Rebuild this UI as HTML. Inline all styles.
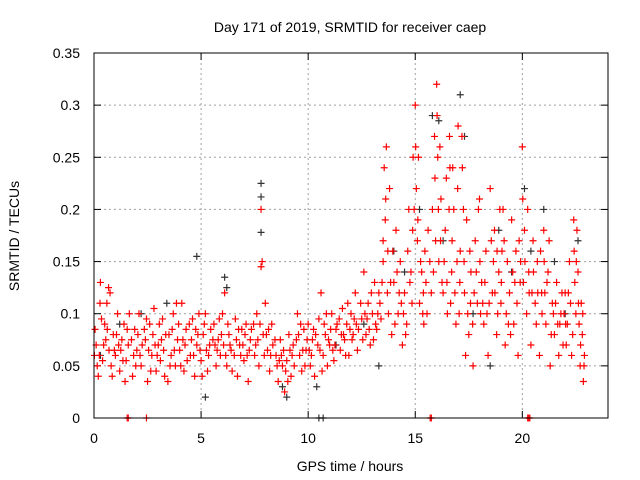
<!DOCTYPE html>
<html><head><meta charset="utf-8"><style>
html,body{margin:0;padding:0;background:#fff;}
svg{display:block;font-family:"Liberation Sans",sans-serif;}
</style></head><body>
<svg id="chart" width="640" height="480" viewBox="0 0 640 480">
<rect width="640" height="480" fill="#fff"/>
<text x="350" y="32" font-size="14" text-anchor="middle">Day 171 of 2019, SRMTID for receiver caep</text>
<text x="350" y="471" font-size="14" text-anchor="middle">GPS time / hours</text>
<text transform="translate(19,236) rotate(-90)" font-size="14" text-anchor="middle">SRMTID / TECUs</text>
<g id="grid"></g>
<g id="ticks"></g>
<g id="black"></g>
<g id="red"></g>
<rect x="94" y="53" width="514" height="365" fill="none" stroke="#000" stroke-width="1"/>
</svg>
<script>
const xTicks=[0,5,10,15,20];
const yTicks=[0,0.05,0.1,0.15,0.2,0.25,0.3,0.35];
const yTickLabels=["0","0.05","0.1","0.15","0.2","0.25","0.3","0.35"];
const redPts=[[0.1,0.07],[0.2,0.04],[0.3,0.13],[0.4,0.055],[0.5,0.09],[0.6,0.11],[0.7,0.065],[0.8,0.05],[0.9,0.08],
[1.0,0.06],[1.1,0.1],[1.2,0.045],[1.3,0.075],[1.4,0.09],[1.5,0.055],[1.6,0.07],[1.8,0.04],[1.9,0.085],
[2.0,0.065],[2.1,0.1],[2.2,0.05],[2.4,0.075],[2.5,0.035],[2.6,0.09],[2.7,0.06],[2.8,0.105],[2.9,0.045],
[3.0,0.07],[3.1,0.055],[3.2,0.095],[3.3,0.04],[3.5,0.08],[3.6,0.06],[3.7,0.1],[3.8,0.05],[3.9,0.075],
[4.0,0.065],[4.1,0.11],[4.2,0.045],[4.3,0.085],[4.5,0.06],[4.6,0.095],[4.7,0.04],[4.8,0.07],[4.9,0.1],
[5.0,0.055],[5.1,0.08],[5.2,0.1],[5.3,0.045],[5.4,0.07],[5.6,0.09],[5.7,0.05],[5.8,0.075],[5.9,0.06],
[6.0,0.1],[6.1,0.12],[6.2,0.05],[6.3,0.08],[6.4,0.065],[6.6,0.095],[6.7,0.04],[6.8,0.07],[6.9,0.085],
[7.0,0.055],[7.1,0.09],[7.2,0.035],[7.3,0.075],[7.5,0.06],[7.6,0.1],[7.7,0.05],[7.8,0.2],[7.85,0.15],[7.9,0.08],
[8.0,0.11],[8.1,0.065],[8.2,0.045],[8.3,0.09],[8.5,0.06],[8.6,0.035],[8.7,0.075],[8.8,0.05],[8.9,0.025],
[9.0,0.055],[9.1,0.08],[9.2,0.04],[9.3,0.07],[9.5,0.1],[9.6,0.06],[9.7,0.045],[9.8,0.085],[9.9,0.065],
[10.0,0.09],[10.1,0.05],[10.2,0.075],[10.3,0.04],[10.5,0.095],[10.6,0.12],[10.7,0.06],[10.8,0.08],[10.9,0.05],
[11.0,0.07],[11.1,0.1],[11.2,0.055],[11.3,0.085],[11.5,0.065],[11.6,0.105],[11.7,0.075],[11.8,0.09],[11.9,0.06],
[12.0,0.1],[12.1,0.08],[12.2,0.12],[12.3,0.065],[12.5,0.095],[12.6,0.14],[12.7,0.08],[12.8,0.11],[12.9,0.07],
[13.0,0.1],[13.1,0.13],[13.2,0.085],[13.3,0.12],[13.4,0.095],[13.5,0.15],[13.6,0.19],[13.65,0.26],[13.7,0.12],[13.8,0.22],[13.9,0.08],
[14.0,0.13],[14.1,0.18],[14.2,0.1],[14.3,0.15],[14.4,0.07],[14.5,0.12],[14.6,0.09],[14.7,0.2],[14.8,0.14],[14.9,0.25],
[15.0,0.3],[15.05,0.22],[15.1,0.17],[15.2,0.11],[15.3,0.14],[15.4,0.09],[15.5,0.13],[15.6,0.18],[15.8,0.2],[15.9,0.27],
[16.0,0.32],[16.05,0.25],[16.1,0.15],[16.2,0.21],[16.3,0.12],[16.4,0.18],[16.5,0.1],[16.6,0.27],[16.7,0.14],[16.8,0.2],[16.9,0.09],
[17.0,0.28],[17.1,0.16],[17.2,0.24],[17.3,0.12],[17.4,0.19],[17.5,0.08],[17.6,0.14],[17.7,0.05],[17.8,0.17],[17.9,0.11],
[18.0,0.21],[18.1,0.13],[18.2,0.09],[18.3,0.16],[18.4,0.06],[18.5,0.22],[18.6,0.12],[18.7,0.18],[18.8,0.08],[18.9,0.14],
[19.0,0.11],[19.1,0.2],[19.2,0.07],[19.3,0.15],[19.4,0.12],[19.5,0.19],[19.6,0.09],[19.7,0.16],[19.8,0.06],[19.9,0.13],
[20.0,0.26],[20.1,0.18],[20.2,0.1],[20.3,0.14],[20.4,0.07],[20.5,0.17],[20.6,0.11],[20.7,0.15],[20.8,0.06],[20.9,0.12],
[21.0,0.18],[21.1,0.09],[21.2,0.14],[21.3,0.05],[21.4,0.11],[21.5,0.08],[21.6,0.13],[21.7,0.06],[21.8,0.1],[21.9,0.07],
[22.0,0.12],[22.1,0.09],[22.2,0.15],[22.3,0.06],[22.4,0.19],[22.5,0.1],[22.6,0.14],[22.7,0.05],[22.8,0.08],[22.85,0.035]];
const redPts2=[[0.05,0.085],[0.25,0.06],[0.35,0.095],[0.55,0.075],[0.75,0.12],[0.85,0.04],[1.05,0.08],[1.25,0.065],[1.45,0.035],[1.65,0.1],[1.85,0.06],
[2.05,0.08],[2.25,0.07],[2.45,0.095],[2.65,0.045],[2.85,0.07],[3.05,0.09],[3.25,0.065],[3.45,0.035],[3.65,0.085],[3.85,0.11],
[4.05,0.05],[4.25,0.07],[4.45,0.09],[4.65,0.06],[4.85,0.08],[5.05,0.04],[5.25,0.065],[5.45,0.085],[5.65,0.07],[5.85,0.095],
[6.05,0.07],[6.25,0.09],[6.45,0.045],[6.65,0.075],[6.85,0.06],[7.05,0.08],[7.25,0.065],[7.45,0.09],[7.65,0.075],[7.8,0.145],
[8.05,0.08],[8.25,0.06],[8.45,0.075],[8.65,0.055],[8.85,0.065],[9.05,0.035],[9.25,0.06],[9.45,0.075],[9.65,0.09],[9.85,0.05],
[10.05,0.065],[10.25,0.085],[10.45,0.07],[10.65,0.045],[10.85,0.1],[11.05,0.085],[11.25,0.07],[11.45,0.095],[11.65,0.08],[11.85,0.11],
[12.05,0.075],[12.25,0.09],[12.45,0.11],[12.65,0.1],[12.85,0.085],[13.05,0.075],[13.25,0.1],[13.45,0.13],[13.55,0.24],[13.75,0.1],[13.95,0.16],
[14.05,0.09],[14.25,0.12],[14.45,0.1],[14.65,0.16],[14.85,0.11],[15.15,0.25],[15.35,0.1],[15.45,0.16],[15.75,0.12],[15.95,0.17],
[16.15,0.26],[16.25,0.13],[16.45,0.23],[16.65,0.11],[16.75,0.24],[16.95,0.15],[17.05,0.1],[17.25,0.2],[17.35,0.06],[17.55,0.16],[17.75,0.12],[17.95,0.2],
[18.05,0.1],[18.25,0.13],[18.45,0.11],[18.65,0.15],[18.85,0.1],[18.95,0.2],[19.05,0.16],[19.25,0.1],[19.45,0.08],[19.65,0.13],[19.85,0.17],
[20.05,0.13],[20.25,0.2],[20.45,0.12],[20.65,0.09],[20.85,0.16],[21.05,0.12],[21.25,0.17],[21.45,0.1],[21.65,0.09],[21.85,0.12],
[22.05,0.07],[22.25,0.11],[22.45,0.13],[22.55,0.18],[22.65,0.09],[22.75,0.11],[22.9,0.06]];
const redPts3=[[0.02,0.06],[0.15,0.05],[0.28,0.11],[0.45,0.07],[0.62,0.085],[0.68,0.125],[0.95,0.065],[1.15,0.07],[1.35,0.055],[1.55,0.085],[1.75,0.075],[1.95,0.05],
[2.15,0.06],[2.35,0.085],[2.55,0.065],[2.75,0.08],[2.95,0.06],[3.15,0.075],[3.35,0.08],[3.55,0.05],[3.75,0.065],[3.95,0.09],
[4.15,0.075],[4.35,0.055],[4.55,0.075],[4.75,0.085],[4.95,0.065],[5.15,0.09],[5.35,0.06],[5.55,0.075],[5.75,0.065],[5.95,0.08],
[6.15,0.06],[6.35,0.07],[6.55,0.06],[6.75,0.085],[6.95,0.07],[7.15,0.06],[7.35,0.085],[7.55,0.07],[7.75,0.09],[7.95,0.06],
[8.15,0.085],[8.35,0.07],[8.55,0.05],[8.75,0.06],[8.95,0.045],[9.15,0.065],[9.35,0.05],[9.55,0.08],[9.75,0.065],[9.95,0.075],
[10.15,0.06],[10.35,0.08],[10.55,0.065],[10.75,0.09],[10.95,0.075],[11.15,0.065],[11.35,0.09],[11.55,0.08],[11.75,0.06],[11.95,0.085],
[12.15,0.095],[12.35,0.085],[12.55,0.075],[12.75,0.095],[12.95,0.12],[13.15,0.09],[13.35,0.11],[13.5,0.17],[13.62,0.21],[13.72,0.16],[13.85,0.13],
[14.15,0.14],[14.35,0.11],[14.55,0.08],[14.75,0.13],[14.88,0.18],[14.95,0.2],[15.02,0.26],[15.12,0.19],[15.25,0.15],[15.38,0.12],[15.55,0.1],[15.68,0.15],[15.85,0.14],[15.92,0.23],
[16.02,0.29],[16.08,0.2],[16.18,0.17],[16.35,0.15],[16.48,0.13],[16.58,0.2],[16.62,0.24],[16.72,0.17],[16.85,0.12],[16.98,0.22],[17.08,0.13],[17.18,0.27],[17.28,0.15],[17.45,0.1],[17.58,0.11],[17.68,0.09],[17.85,0.14],
[18.02,0.15],[18.15,0.11],[18.35,0.1],[18.55,0.17],[18.72,0.12],[18.82,0.16],[19.02,0.13],[19.15,0.17],[19.35,0.09],[19.55,0.14],[19.75,0.11],[19.92,0.15],
[20.02,0.21],[20.12,0.15],[20.32,0.12],[20.52,0.14],[20.72,0.12],[20.92,0.1],[21.02,0.15],[21.15,0.13],[21.35,0.08],[21.55,0.11],[21.75,0.09],[21.95,0.1],
[22.02,0.09],[22.15,0.12],[22.35,0.08],[22.42,0.16],[22.52,0.15],[22.62,0.11],[22.72,0.07],[22.82,0.1],[22.88,0.05]];
const blackPts=[[0.3,0.06],[1.2,0.09],[2.2,0.1],[3.4,0.11],[4.8,0.155],[5.2,0.02],[6.1,0.135],[6.2,0.125],[7.8,0.225],[7.8,0.212],[7.8,0.178],[8.8,0.03],
[9.0,0.02],[10.4,0.03],[11.3,0.07],[12.6,0.09],[13.3,0.05],[14.0,0.16],[14.5,0.14],[15.2,0.2],[15.8,0.29],[16.1,0.285],[16.3,0.17],[17.1,0.31],
[17.3,0.27],[17.7,0.1],[18.5,0.05],[18.9,0.18],[19.5,0.14],[20.1,0.22],[20.4,0.16],[21.0,0.2],[21.5,0.15],[22.0,0.1],[22.6,0.17]];
const zeroMarksRed=[1.55,1.6,2.45,15.7,15.75,20.25,20.3,20.35];
const zeroMarksBlack=[10.5,10.7];

const NS="http://www.w3.org/2000/svg";
const X0=94,X1=608,Y0=418,Y1=53,XMAX=24,YMAX=0.35;
function sx(v){return X0+(X1-X0)*v/XMAX;}
function sy(v){return Y0-(Y0-Y1)*v/YMAX;}
function mk(tag,attrs,parent){const e=document.createElementNS(NS,tag);for(const k in attrs)e.setAttribute(k,attrs[k]);parent.appendChild(e);return e;}
const grid=document.getElementById('grid'),ticks=document.getElementById('ticks');
xTicks.forEach(t=>{
  const x=sx(t);
  if(t>0){const g=mk('line',{x1:x,x2:x,y1:Y1,y2:Y0,stroke:'#a0a0a0','stroke-dasharray':'2,3'},grid);
  
  }
  mk('line',{x1:x,x2:x,y1:Y0,y2:Y0-7,stroke:'#000'},ticks);
  mk('line',{x1:x,x2:x,y1:Y1,y2:Y1+7,stroke:'#000'},ticks);
  const l=mk('text',{x:x,y:Y0+25,'font-size':14,'text-anchor':'middle'},ticks);
  l.textContent=String(t);
  
  
});
yTicks.forEach((t,i)=>{
  const y=sy(t);
  if(t>0&&t<YMAX){const g=mk('line',{x1:X0,x2:X1,y1:y,y2:y,stroke:'#a0a0a0','stroke-dasharray':'2,3'},grid);
  
  }
  mk('line',{x1:X0,x2:X0+7,y1:y,y2:y,stroke:'#000'},ticks);
  mk('line',{x1:X1,x2:X1-7,y1:y,y2:y,stroke:'#000'},ticks);
  const l=mk('text',{x:X0-14,y:y+5,'font-size':14,'text-anchor':'end'},ticks);
  l.textContent=yTickLabels[i];
  
  
});
function plus(g,t,v,col){
  const x=sx(t),y=sy(v);
  const p=mk('path',{d:`M${x-3.5},${y}H${x+3.5}M${x},${y-3.5}V${y+3.5}`,stroke:col,'stroke-width':1.2,fill:'none'},g);
  
  
}
const bg=document.getElementById('black'),rg=document.getElementById('red');
blackPts.forEach(p=>plus(bg,p[0],p[1],'#333'));
zeroMarksBlack.forEach(t=>plus(bg,t,0,'#333'));
redPts.forEach(p=>plus(rg,p[0],p[1],'#f00'));
redPts2.forEach(p=>plus(rg,p[0],p[1],'#f00'));
redPts3.forEach(p=>plus(rg,p[0],p[1],'#f00'));
zeroMarksRed.forEach(t=>plus(rg,t,0,'#f00'));
</script>
</body></html>
